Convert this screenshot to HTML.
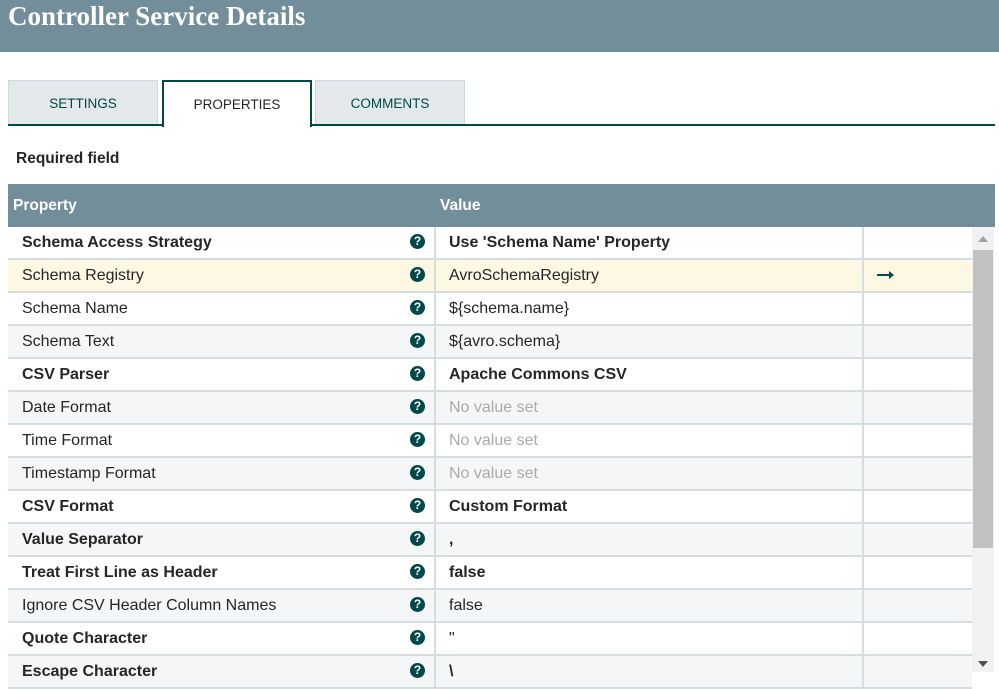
<!DOCTYPE html>
<html><head><style>
*{margin:0;padding:0;box-sizing:border-box}
body{width:999px;height:672px;overflow:hidden;background:#fff;font-family:"Liberation Sans",sans-serif;position:relative}
.hdr{position:absolute;left:0;top:0;width:999px;height:52px;background:#728e9b;color:#fff;font-family:"Liberation Serif",serif;font-weight:bold;font-size:27px;padding:1px 0 0 8px}
.tab{position:absolute;top:80px;height:45px;width:150px;background:#e3e8eb;border:1px solid #cfd8dc;color:#004849;font-size:13.5px;text-align:center;line-height:46px}
.tab.act{background:#fff;border:2px solid #004849;border-bottom:none;color:#262626;height:47px}
.line{position:absolute;top:124px;left:8px;width:987px;height:2px;background:#004849}
.req{position:absolute;left:16px;top:150px;font-size:15.5px;font-weight:bold;color:#262626}
.th{position:absolute;left:8px;top:184px;width:987px;height:43px;background:#728e9b;color:#fff;font-weight:bold;font-size:15.5px}
.th span{position:absolute;top:13px}
.row{position:absolute;left:8px;width:964px;height:33px;border-bottom:2px solid #d6dde1;font-size:16px;color:#262626}
.row.g{background:#f4f6f7}.row.y{background:#fdf8e4}
.row .p{position:absolute;left:14px;top:7px}
.row .v{position:absolute;left:441px;top:7px}
.row .q{position:absolute;left:402px;top:7px;width:15px;height:15px;border-radius:50%;background:#004849;color:#fff;font-size:12px;font-weight:bold;text-align:center;line-height:15px}
.row .s1{position:absolute;left:426px;top:0;width:2px;height:33px;background:#d6dde1}
.row .s2{position:absolute;left:854px;top:0;width:2px;height:33px;background:#d6dde1}
.b{font-weight:bold}.n{color:#aaa}
.sb{position:absolute;left:972px;top:227px;width:22px;height:445px;background:#f1f1f1}
.thumb{position:absolute;left:973px;top:250px;width:20px;height:298px;background:#c1c1c1}
</style></head><body>
<div class="hdr">Controller Service Details</div>
<div class="tab" style="left:8px">SETTINGS</div>
<div class="tab" style="left:315px">COMMENTS</div>
<div class="line"></div>
<div class="tab act" style="left:162px">PROPERTIES</div>
<div class="req">Required field</div>
<div class="th"><span style="left:5px">Property</span><span style="left:432px">Value</span></div>

<div class="row" style="top:227px"><span class="p b">Schema Access Strategy</span><span class="q">?</span><span class="s1"></span><span class="v b">Use 'Schema Name' Property</span><span class="s2"></span></div>
<div class="row y" style="top:260px"><span class="p">Schema Registry</span><span class="q">?</span><span class="s1"></span><span class="v">AvroSchemaRegistry</span><span class="s2"></span><span style="position:absolute;left:869px;top:14px;width:14px;height:2px;background:#004849"></span><span style="position:absolute;left:881px;top:11px;border-left:5px solid #004849;border-top:4px solid transparent;border-bottom:4px solid transparent"></span></div>
<div class="row" style="top:293px"><span class="p">Schema Name</span><span class="q">?</span><span class="s1"></span><span class="v">${schema.name}</span><span class="s2"></span></div>
<div class="row g" style="top:326px"><span class="p">Schema Text</span><span class="q">?</span><span class="s1"></span><span class="v">${avro.schema}</span><span class="s2"></span></div>
<div class="row" style="top:359px"><span class="p b">CSV Parser</span><span class="q">?</span><span class="s1"></span><span class="v b">Apache Commons CSV</span><span class="s2"></span></div>
<div class="row g" style="top:392px"><span class="p">Date Format</span><span class="q">?</span><span class="s1"></span><span class="v n">No value set</span><span class="s2"></span></div>
<div class="row" style="top:425px"><span class="p">Time Format</span><span class="q">?</span><span class="s1"></span><span class="v n">No value set</span><span class="s2"></span></div>
<div class="row g" style="top:458px"><span class="p">Timestamp Format</span><span class="q">?</span><span class="s1"></span><span class="v n">No value set</span><span class="s2"></span></div>
<div class="row" style="top:491px"><span class="p b">CSV Format</span><span class="q">?</span><span class="s1"></span><span class="v b">Custom Format</span><span class="s2"></span></div>
<div class="row g" style="top:524px"><span class="p b">Value Separator</span><span class="q">?</span><span class="s1"></span><span class="v b">,</span><span class="s2"></span></div>
<div class="row" style="top:557px"><span class="p b">Treat First Line as Header</span><span class="q">?</span><span class="s1"></span><span class="v b">false</span><span class="s2"></span></div>
<div class="row g" style="top:590px"><span class="p">Ignore CSV Header Column Names</span><span class="q">?</span><span class="s1"></span><span class="v">false</span><span class="s2"></span></div>
<div class="row" style="top:623px"><span class="p b">Quote Character</span><span class="q">?</span><span class="s1"></span><span class="v">"</span><span class="s2"></span></div>
<div class="row g" style="top:656px"><span class="p b">Escape Character</span><span class="q">?</span><span class="s1"></span><span class="v b">\</span><span class="s2"></span></div>

<div class="sb"></div><div class="thumb"></div>
<div style="position:absolute;left:978px;top:236px;width:0;height:0;border-left:5px solid transparent;border-right:5px solid transparent;border-bottom:6px solid #a3a3a3"></div>
<div style="position:absolute;left:978px;top:661px;width:0;height:0;border-left:5px solid transparent;border-right:5px solid transparent;border-top:6px solid #505050"></div>
</body></html>
